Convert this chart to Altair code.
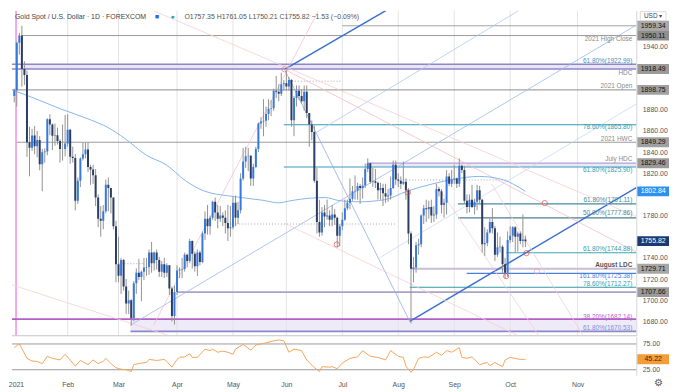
import altair as alt
import pandas as pd

# ---------------- candles: one entry per trading day, Dec 31 2020 .. Oct 11 2021 ----------------
opens = [
    1893.0, 1898.4, 1943.2, 1950.1, 1918.5, 1912.8, 1849.3, 1844.0, 1855.7, 1845.5,
    1851.4, 1828.4, 1839.9, 1840.5, 1871.0, 1866.0, 1855.4, 1856.0, 1850.5, 1843.0,
    1843.0, 1848.0, 1861.0, 1835.5, 1834.5, 1794.0, 1813.0, 1834.0, 1838.0, 1842.5,
    1826.0, 1823.5, 1818.0, 1797.0, 1777.0, 1775.0, 1784.0, 1809.0, 1806.0, 1797.0,
    1770.0, 1734.0, 1723.0, 1738.0, 1713.0, 1697.0, 1700.0, 1683.0, 1716.0, 1726.0,
    1722.0, 1727.0, 1731.0, 1731.5, 1745.0, 1735.0, 1745.0, 1738.0, 1727.0, 1734.0,
    1726.0, 1733.0, 1711.0, 1685.0, 1707.7, 1728.0, 1729.0, 1729.5, 1743.0, 1737.0,
    1756.0, 1744.0, 1732.0, 1745.0, 1736.0, 1763.0, 1777.0, 1770.0, 1778.0, 1793.0,
    1783.0, 1777.0, 1780.0, 1778.0, 1773.0, 1768.0, 1769.0, 1792.0, 1778.0, 1785.0,
    1815.0, 1831.0, 1836.0, 1836.5, 1815.0, 1826.0, 1843.0, 1867.0, 1869.0, 1869.5,
    1876.0, 1881.0, 1881.5, 1898.0, 1897.0, 1895.0, 1904.0, 1905.0, 1902.0, 1908.0,
    1870.0, 1891.0, 1898.0, 1893.0, 1888.0, 1897.0, 1877.0, 1866.0, 1859.0, 1813.0,
    1774.0, 1764.0, 1783.0, 1779.0, 1780.0, 1776.0, 1781.0, 1778.0, 1761.0, 1770.0,
    1776.0, 1787.0, 1792.0, 1796.0, 1803.0, 1803.5, 1808.0, 1806.0, 1808.5, 1824.0,
    1829.5, 1812.0, 1812.5, 1811.0, 1804.0, 1806.0, 1801.0, 1798.0, 1799.0, 1806.0,
    1828.0, 1814.0, 1813.0, 1810.0, 1812.0, 1804.0, 1763.0, 1729.7, 1731.0, 1752.0,
    1753.0, 1780.0, 1787.0, 1786.0, 1788.0, 1780.0, 1781.0, 1805.0, 1803.0, 1790.0,
    1792.0, 1817.0, 1810.0, 1814.0, 1815.0, 1810.0, 1827.0, 1823.0, 1794.0, 1788.0,
    1795.0, 1788.0, 1793.0, 1804.0, 1795.0, 1753.0, 1754.0, 1764.0, 1774.0, 1768.0,
    1743.0, 1750.0, 1750.5, 1734.0, 1726.0, 1757.0, 1761.0, 1769.0, 1760.0, 1763.0,
    1756.0, 1757.35,
]
highs = [
    1900.0, 1944.4, 1952.6, 1959.3, 1925.8, 1917.0, 1864.0, 1862.0, 1864.5, 1860.0,
    1855.0, 1843.0, 1843.5, 1872.0, 1875.8, 1867.0, 1867.0, 1863.0, 1852.0, 1866.0,
    1875.0, 1875.8, 1862.0, 1845.0, 1838.0, 1816.0, 1835.0, 1849.0, 1849.0, 1849.0,
    1828.0, 1828.0, 1824.0, 1800.0, 1789.0, 1790.0, 1814.0, 1816.0, 1806.0, 1797.0,
    1775.0, 1760.0, 1740.0, 1739.0, 1720.0, 1709.0, 1701.0, 1718.0, 1730.0, 1739.0,
    1728.0, 1740.0, 1740.0, 1748.0, 1755.0, 1746.0, 1748.0, 1741.0, 1737.0, 1740.0,
    1735.0, 1733.0, 1713.0, 1714.0, 1733.0, 1731.0, 1740.0, 1745.0, 1744.0, 1758.0,
    1756.5, 1746.0, 1748.0, 1747.0, 1765.0, 1784.0, 1790.0, 1780.0, 1794.0, 1797.0,
    1790.0, 1789.0, 1783.0, 1785.0, 1790.0, 1789.0, 1798.0, 1799.0, 1793.0, 1820.0,
    1844.0, 1845.0, 1844.0, 1837.0, 1829.0, 1845.0, 1868.0, 1873.0, 1890.0, 1883.0,
    1890.0, 1889.0, 1900.0, 1912.0, 1904.0, 1915.0, 1908.0, 1916.6, 1911.0, 1909.0,
    1893.0, 1903.0, 1903.0, 1899.0, 1903.0, 1903.0, 1877.0, 1870.0, 1865.0, 1825.0,
    1795.0, 1788.0, 1790.0, 1795.0, 1785.0, 1790.0, 1786.0, 1779.0, 1772.0, 1783.0,
    1795.0, 1795.0, 1815.0, 1808.0, 1818.0, 1811.0, 1810.0, 1816.0, 1829.0, 1834.0,
    1829.8, 1825.0, 1824.0, 1812.0, 1811.0, 1810.0, 1810.0, 1805.0, 1817.0, 1832.0,
    1832.0, 1820.0, 1817.0, 1831.0, 1815.0, 1806.0, 1765.0, 1741.0, 1755.0, 1758.0,
    1781.0, 1790.0, 1795.0, 1794.0, 1795.0, 1789.0, 1810.0, 1807.0, 1805.0, 1796.0,
    1823.0, 1820.0, 1823.0, 1828.0, 1816.0, 1834.0, 1828.0, 1827.0, 1800.0, 1800.0,
    1809.0, 1796.0, 1809.0, 1808.0, 1796.0, 1769.0, 1767.0, 1777.0, 1787.0, 1770.0,
    1764.0, 1760.0, 1752.0, 1740.0, 1765.0, 1770.0, 1770.0, 1770.0, 1765.0, 1765.0,
    1781.0, 1761.05,
]
lows = [
    1887.0, 1883.0, 1932.0, 1901.8, 1903.4, 1835.5, 1817.1, 1841.0, 1838.0, 1835.0,
    1822.8, 1803.0, 1830.0, 1837.0, 1856.0, 1842.0, 1846.0, 1847.0, 1830.0, 1832.0,
    1836.0, 1845.0, 1829.0, 1830.0, 1785.0, 1791.0, 1807.0, 1832.0, 1834.0, 1821.0,
    1809.0, 1810.0, 1789.0, 1769.0, 1760.0, 1767.0, 1782.0, 1784.0, 1782.0, 1767.0,
    1717.0, 1717.0, 1706.0, 1709.0, 1687.0, 1687.0, 1676.0, 1680.0, 1706.0, 1719.0,
    1699.0, 1719.0, 1723.0, 1724.0, 1726.0, 1728.0, 1729.0, 1722.0, 1722.0, 1721.0,
    1722.0, 1705.0, 1680.0, 1677.0, 1705.0, 1721.0, 1721.0, 1727.0, 1731.0, 1735.0,
    1730.0, 1727.0, 1723.0, 1733.0, 1735.0, 1757.0, 1762.0, 1762.0, 1776.0, 1775.0,
    1768.0, 1774.0, 1770.0, 1763.0, 1756.0, 1760.0, 1767.0, 1770.0, 1772.0, 1782.0,
    1813.0, 1825.0, 1822.0, 1808.0, 1808.0, 1825.0, 1840.0, 1862.0, 1855.0, 1864.0,
    1870.0, 1874.0, 1879.0, 1891.0, 1888.0, 1893.0, 1898.0, 1898.0, 1898.0, 1864.0,
    1855.0, 1883.0, 1889.0, 1886.0, 1879.0, 1872.0, 1845.0, 1851.0, 1811.0, 1763.0,
    1760.0, 1761.0, 1769.0, 1776.0, 1770.0, 1770.0, 1771.0, 1750.0, 1751.0, 1766.0,
    1775.0, 1785.0, 1786.0, 1794.0, 1795.0, 1795.0, 1791.0, 1796.0, 1806.0, 1821.0,
    1810.0, 1807.0, 1806.0, 1795.0, 1795.0, 1789.0, 1792.0, 1793.0, 1795.0, 1805.0,
    1809.0, 1807.0, 1805.0, 1809.0, 1795.0, 1753.0, 1678.0, 1717.0, 1726.0, 1743.0,
    1750.0, 1772.0, 1774.0, 1777.0, 1773.0, 1774.0, 1777.0, 1798.0, 1782.0, 1778.0,
    1781.0, 1808.0, 1807.0, 1810.0, 1806.0, 1807.0, 1820.0, 1791.0, 1782.0, 1783.0,
    1787.0, 1781.0, 1785.0, 1791.0, 1745.0, 1742.0, 1751.0, 1763.0, 1763.0, 1737.0,
    1741.0, 1745.0, 1725.0, 1721.0, 1722.0, 1754.0, 1755.0, 1745.0, 1746.0, 1753.0,
    1750.0, 1750.21,
]
closes = [
    1898.4, 1943.2, 1950.1, 1918.5, 1912.8, 1849.3, 1844.0, 1855.7, 1845.5, 1851.4,
    1828.4, 1839.9, 1840.5, 1871.0, 1866.0, 1855.4, 1856.0, 1850.5, 1843.0, 1843.0,
    1848.0, 1861.0, 1835.5, 1834.5, 1794.0, 1813.0, 1834.0, 1838.0, 1842.5, 1826.0,
    1823.5, 1818.0, 1797.0, 1777.0, 1775.0, 1784.0, 1809.0, 1806.0, 1797.0, 1770.0,
    1734.0, 1723.0, 1738.0, 1713.0, 1697.0, 1700.0, 1683.0, 1716.0, 1726.0, 1722.0,
    1727.0, 1731.0, 1731.5, 1745.0, 1735.0, 1745.0, 1738.0, 1727.0, 1734.0, 1726.0,
    1733.0, 1711.0, 1685.0, 1707.7, 1728.0, 1729.0, 1729.5, 1743.0, 1737.0, 1756.0,
    1744.0, 1732.0, 1745.0, 1736.0, 1763.0, 1777.0, 1770.0, 1778.0, 1793.0, 1783.0,
    1777.0, 1780.0, 1778.0, 1773.0, 1768.0, 1769.0, 1792.0, 1778.0, 1785.0, 1815.0,
    1831.0, 1836.0, 1836.5, 1815.0, 1826.0, 1843.0, 1867.0, 1869.0, 1869.5, 1876.0,
    1881.0, 1881.5, 1898.0, 1897.0, 1895.0, 1904.0, 1905.0, 1902.0, 1908.0, 1870.0,
    1891.0, 1898.0, 1893.0, 1888.0, 1897.0, 1877.0, 1866.0, 1859.0, 1813.0, 1774.0,
    1764.0, 1783.0, 1779.0, 1780.0, 1776.0, 1781.0, 1778.0, 1761.0, 1770.0, 1776.0,
    1787.0, 1792.0, 1796.0, 1803.0, 1803.5, 1808.0, 1806.0, 1808.5, 1824.0, 1829.5,
    1812.0, 1812.5, 1811.0, 1804.0, 1806.0, 1801.0, 1798.0, 1799.0, 1806.0, 1828.0,
    1814.0, 1813.0, 1810.0, 1812.0, 1804.0, 1763.0, 1729.7, 1731.0, 1752.0, 1753.0,
    1780.0, 1787.0, 1786.0, 1788.0, 1780.0, 1781.0, 1805.0, 1803.0, 1790.0, 1792.0,
    1817.0, 1810.0, 1814.0, 1815.0, 1810.0, 1827.0, 1823.0, 1794.0, 1788.0, 1795.0,
    1788.0, 1793.0, 1804.0, 1795.0, 1753.0, 1754.0, 1764.0, 1774.0, 1768.0, 1743.0,
    1750.0, 1750.5, 1734.0, 1726.0, 1757.0, 1761.0, 1769.0, 1760.0, 1763.0, 1756.0,
    1757.4, 1755.82,
]

# month starts (bar position) and labels
month_pos = [0.7, 21, 41, 64, 86, 107, 129, 151, 173, 195, 221.5]
month_lab = ["2021", "Feb", "Mar", "Apr", "May", "Jun", "Jul", "Aug", "Sep", "Oct", "Nov"]
price_ticks = [1680, 1700, 1720, 1740, 1780, 1820, 1840, 1860, 1880, 1940]
rsi_ticks = [25, 75]

# moving average (sampled)
ma_bar = [0, 6.7, 18, 29.4, 37, 43.4, 52, 59.7, 67.3, 74.9, 86.2, 97.6, 104, 107.8, 112.7,
          122.2, 128, 135.5, 145.7, 154.4, 164.6, 173.3, 182.8, 191.2, 196, 201]
ma_val = [1898, 1892, 1881, 1871, 1863, 1853, 1837, 1828, 1813, 1803, 1798, 1794.5, 1792, 1793.6, 1795.5,
          1797, 1794, 1793, 1795, 1803, 1810, 1814.5, 1817, 1814.5, 1810, 1802.84]

# RSI (sampled)
rsi_bar = [0, 2, 3, 5, 7, 9, 11, 13, 15, 18, 20, 22, 24, 26, 29, 31, 33, 35, 36, 38,
           40, 42, 44, 46, 47, 50, 52, 53, 56, 59, 60, 62, 64, 65, 67, 69, 70, 72, 75, 77,
           78, 80, 82, 84, 86, 87, 90, 93, 95, 99, 101, 104, 106, 108, 110, 113, 115, 118, 120, 121,
           124, 125, 127, 129, 132, 135, 137, 140, 143, 146, 148, 151, 153, 154, 156, 157, 159, 161, 163, 166,
           168, 170, 172, 175, 176, 178, 180, 183, 186, 187, 189, 192, 193, 195, 197, 199, 201]
rsi_val = [68, 75, 66, 47, 42, 41, 37, 51, 47, 44, 55, 44, 32, 43, 35, 44, 37, 41, 47, 37,
           29, 26, 25, 21.5, 35, 38, 39, 45, 43, 45, 41, 30, 45, 49, 50, 56, 49, 49, 65, 62,
           65, 59, 61, 59, 55, 65, 74, 63, 73, 77, 80, 83, 81, 59, 65, 62, 44, 29, 21.5, 31,
           30, 31, 27, 38, 47, 50, 62, 51, 49, 44, 62, 51, 49, 32, 20, 26, 47, 50, 49, 59,
           53, 62, 59, 68, 49, 47, 50, 35, 39, 33, 39, 31, 44, 49, 47, 45, 45.22]

# horizontal levels
lvl_price = [1959.34, 1950.11, 1922.99, 1918.49, 1898.75, 1865.80, 1849.29, 1829.46, 1825.90,
             1791.11, 1777.86, 1744.88, 1729.71, 1725.38, 1712.27, 1707.66, 1682.14, 1670.53]
lvl_from = [129, 3, -0.9, -0.9, -0.9, 106, 1, 139, 106, 174.5, 174.5, 193.5, 156, 177.9, 155.5, 64, -0.9, 45.7]
lvl_color = ["#a3a3a3", "#9a9a9a", "#8f86c6", "#8f86c6", "#8c8c8c", "#2e9fb3", "#9a9a9a", "#b0a2d6", "#3a9cc0",
             "#3f8e9c", "#4f7f8c", "#3fa6b5", "#c6bedc", "#4a7fe0", "#2f9aa5", "#aaa3c6", "#b35fc9", "#8a88cc"]
lvl_width = [1, 1, 1.3, 1.3, 1, 1.2, 1, 1.3, 1.2, 1.2, 1.2, 1.2, 2, 1.2, 1.2, 1.8, 1.6, 1.6]

# shaded zones
zone_lo = [1918.49, 1825.90, 1670.53]
zone_hi = [1922.99, 1829.46, 1682.14]
zone_from = [3, 139, 45.7]
zone_color = ["#e9e5f5", "#ece8f6", "#eeeaf7"]

# dotted reference lines
dot_price = [1907, 1813.6, 1734.5, 1772]
dot_from = [108, 153, 41, 85]
dot_to = [129, 194, 51, 150]

# level annotations
note_text = ["2021 High Close", "61.80%(1922.99)", "HDC", "2021 Open", "78.60%(1865.80)", "2021 HWC",
             "July HDC", "61.80%(1825.90)", "61.80%(1791.11)", "50.00%(1777.86)", "61.80%(1744.88)",
             "August LDC", "161.80%(1725.38)", "78.60%(1712.27)", "38.20%(1682.14)", "61.80%(1670.53)"]
note_price = [1946.4, 1926.4, 1914.5, 1902.7, 1863.6, 1852.7, 1833.6, 1822.7, 1794.5, 1782.7, 1748.2,
              1733.6, 1722.7, 1715.5, 1684.5, 1673.6]
note_color = ["#8a8a8a", "#4b8db5", "#8a8a8a", "#8a8a8a", "#2e9fb3", "#8a8a8a", "#8a8a8a", "#2e9fb3",
              "#3f8e9c", "#3f8e9c", "#2e9fb3", "#555555", "#4a7fe0", "#2e9fb3", "#b35fc9", "#7f8fd6"]
note_bold = [False] * 11 + [True] + [False] * 4

# right-axis price tags
tag_price = [1959.34, 1950.11, 1918.49, 1898.75, 1849.29, 1829.46, 1802.84, 1755.82, 1729.71, 1707.66]
tag_bg = ["#a8a8a8", "#8f8f8f", "#9a9a9a", "#a0a0a0", "#a0a0a0", "#9a9a9a", "#2f8ff0", "#1d3a70", "#a6a6a6", "#9a9a9a"]
tag_fg = ["#111111"] * 6 + ["#ffffff", "#ffffff", "#111111", "#111111"]
rsi_tag = [45.22]

# trend / pitchfork lines (bar, price) -> (bar, price)
seg_x1 = [106.3, 155.5, 45.7, 106.3, 118.7, 143.2, 106.3, 54.8, -0.9, 106.3, 165.8, 187.7, 54.8]
seg_y1 = [1918.2, 1680.0, 1676.4, 1918.2, 1858.5, 1739.5, 1918.2, 1973.6, 1714.5, 1772.7, 1810.0, 1810.0, 1676.4]
seg_x2 = [146.1, 244.6, 244.6, 155.5, 198.3, 244.6, 244.6, 244.6, 63.5, 199.9, 206.3, 223.7, 119.6]
seg_y2 = [1973.6, 1806.4, 1960.0, 1680.0, 1973.6, 1885.5, 1745.5, 1779.1, 1664.5, 1664.5, 1666.4, 1666.4, 1973.6]
seg_color = ["#3b6fd4", "#3b6fd4", "#9ab8ec", "#8eacE6", "#b0c8f0", "#c2d4f4",
             "#f3bcc3", "#f6cdd2", "#f6cdd2", "#f6cdd2", "#f6cdd2", "#f6cdd2", "#f3c4ca"]
seg_width = [1.5, 1.4, 0.8, 0.8, 0.8, 0.7, 0.8, 0.8, 0.8, 0.8, 0.8, 0.8, 0.8]

# pivots marked with circles
pin_bar = [106.3, 154.8, 126.8, 208.6, 201.4, 193.4, 205.5]
pin_price = [1918.2, 1801.8, 1752.7, 1791.8, 1744.5, 1722.7, 1727.3]
pin_color = ["#e07a8a", "#e04848", "#e04848", "#e04848", "#e04848", "#e04848", "#eaa0a8"]

# ---------------- layout ----------------
XMIN, XMAX = -0.9, 244.6
YMIN, YMAX = 1666.4, 1973.6
RMIN, RMAX = 14.0, 89.0
W, H1, H2 = 630, 328, 39
FONT = "Liberation Sans"
TAG_H = 5.0 * (YMAX - YMIN) / H1
RTAG_H = 5.0 * (RMAX - RMIN) / H2

xs = alt.Scale(domain=[XMIN, XMAX], nice=False, zero=False)
ys = alt.Scale(domain=[YMIN, YMAX], nice=False, zero=False)
rs = alt.Scale(domain=[RMIN, RMAX], nice=False, zero=False)

y_axis = alt.Axis(orient="right", values=price_ticks, format=".2f", grid=False, ticks=False,
                  domainColor="#d4d4d4", labelColor="#555555", labelFontSize=7, labelFont=FONT,
                  labelPadding=6, title=None, labelOverlap=False)
r_axis = alt.Axis(orient="right", values=rsi_ticks, format=".2f", grid=False, ticks=False,
                  domainColor="#d4d4d4", labelColor="#555555", labelFontSize=7, labelFont=FONT,
                  labelPadding=6, title=None, labelOverlap=False)
lab_expr = " : ".join(f"datum.value == {p} ? '{l}'" for p, l in zip(month_pos, month_lab)) + " : ''"
x_axis = alt.Axis(values=month_pos, labelExpr=lab_expr, grid=False, ticks=False, domain=False,
                  labelColor="#555555", labelFontSize=7, labelFont=FONT, labelPadding=5,
                  title=None, labelOverlap=False, labelFlush=False)


def PX(f):
    return alt.X(f, type="quantitative", scale=xs, axis=None)


def PY(f):
    return alt.Y(f, type="quantitative", scale=ys, axis=y_axis)


def RX(f):
    return alt.X(f, type="quantitative", scale=xs, axis=x_axis)


def RY(f):
    return alt.Y(f, type="quantitative", scale=rs, axis=r_axis)


n = len(closes)
candles = pd.DataFrame({"i": list(range(n)), "o": opens, "h": highs, "l": lows, "c": closes})
candles["col"] = ["#3579e0" if c >= o else "#2c3d63" for o, c in zip(opens, closes)]

levels = pd.DataFrame({"p": lvl_price, "s": lvl_from, "col": lvl_color, "w": lvl_width})
levels["e"] = XMAX
zones = pd.DataFrame({"lo": zone_lo, "hi": zone_hi, "s": zone_from, "col": zone_color})
zones["e"] = XMAX
dots = pd.DataFrame({"p": dot_price, "s": dot_from, "e": dot_to})
notes = pd.DataFrame({"t": note_text, "p": note_price, "col": note_color, "b": note_bold})
notes_n = notes[~notes["b"]].drop(columns="b")
notes_b = notes[notes["b"]].drop(columns="b")
tags = pd.DataFrame({"p": tag_price, "bg": tag_bg, "fg": tag_fg})
tags["t"] = [f"{v:.2f}" for v in tag_price]
tags["top"] = tags["p"] + TAG_H
tags["bot"] = tags["p"] - TAG_H
segs = pd.DataFrame({"x1": seg_x1, "y1": seg_y1, "x2": seg_x2, "y2": seg_y2, "col": seg_color, "w": seg_width})
pins = pd.DataFrame({"i": pin_bar, "p": pin_price, "col": pin_color})
ma = pd.DataFrame({"i": ma_bar, "v": ma_val})
months = pd.DataFrame({"m": month_pos[1:]})
rsi = pd.DataFrame({"i": rsi_bar, "v": rsi_val})
rlev = pd.DataFrame({"v": rsi_ticks})
rtag = pd.DataFrame({"v": rsi_tag})
rtag["t"] = [f"{v:.2f}" for v in rsi_tag]
rtag["top"] = rtag["v"] + RTAG_H
rtag["bot"] = rtag["v"] - RTAG_H
header = pd.DataFrame({
    "t": ["Gold Spot / U.S. Dollar · 1D · FOREXCOM", "■", "●",
          "O1757.35 H1761.05 L1750.21 C1755.82 −1.53 (−0.09%)"],
    "x": [3, 144, 160, 174],
    "col": ["#444444", "#2962ff", "#26a69a", "#555555"],
})

# ---------------- price pane ----------------
zone_l = alt.Chart(zones).mark_rect(clip=True).encode(
    x=PX("s"), x2="e", y=PY("lo"), y2="hi", color=alt.Color("col:N", scale=None))
grid_l = alt.Chart(months).mark_rule(color="#e4e4e4", strokeWidth=1).encode(
    x=PX("m"), y=alt.value(0), y2=alt.value(H1))
pink_l = alt.Chart(pd.DataFrame({"m": [month_pos[0]]})).mark_rule(color="#ef8fe2", strokeWidth=1.5).encode(
    x=PX("m"), y=alt.value(0), y2=alt.value(H1))
sep_l = alt.Chart(pd.DataFrame({"a": [0]})).mark_rule(color="#c4c4c4", strokeWidth=1).encode(
    x=alt.value(0), x2=alt.value(W), y=alt.value(H1))
lvl_l = alt.Chart(levels).mark_rule(clip=True).encode(
    x=PX("s"), x2="e", y=PY("p"), color=alt.Color("col:N", scale=None),
    strokeWidth=alt.StrokeWidth("w:Q", scale=None))
dot_l = alt.Chart(dots).mark_rule(color="#a8a8a8", strokeWidth=1, strokeDash=[1, 2], clip=True).encode(
    x=PX("s"), x2="e", y=PY("p"))
seg_l = alt.Chart(segs).mark_rule(clip=True).encode(
    x=PX("x1"), x2="x2", y=PY("y1"), y2="y2", color=alt.Color("col:N", scale=None),
    strokeWidth=alt.StrokeWidth("w:Q", scale=None))
ma_l = alt.Chart(ma).mark_line(color="#86b6ec", strokeWidth=1, interpolate="monotone", clip=True).encode(
    x=PX("i"), y=PY("v"))
wick_l = alt.Chart(candles).mark_rule(color="#929292", strokeWidth=1, clip=True).encode(
    x=PX("i"), y=PY("l"), y2="h")
body_l = alt.Chart(candles).mark_rule(strokeWidth=2, strokeCap="butt", clip=True).encode(
    x=PX("i"), y=PY("o"), y2="c", color=alt.Color("col:N", scale=None))
pin_l = alt.Chart(pins).mark_point(shape="circle", filled=False, size=28, strokeWidth=1).encode(
    x=PX("i"), y=PY("p"), color=alt.Color("col:N", scale=None))
note_l = alt.Chart(notes_n).mark_text(align="right", baseline="middle", fontSize=6.5, font=FONT).encode(
    x=alt.value(W - 4), y=PY("p"), text="t:N", color=alt.Color("col:N", scale=None))
noteb_l = alt.Chart(notes_b).mark_text(align="right", baseline="middle", fontSize=6.5, font=FONT,
                                       fontWeight="bold").encode(
    x=alt.value(W - 4), y=PY("p"), text="t:N", color=alt.Color("col:N", scale=None))
tagbox_l = alt.Chart(tags).mark_rect().encode(
    x=alt.value(W + 1), x2=alt.value(W + 33), y=PY("top"), y2="bot", color=alt.Color("bg:N", scale=None))
tagtxt_l = alt.Chart(tags).mark_text(align="center", baseline="middle", fontSize=7, font=FONT).encode(
    x=alt.value(W + 17), y=PY("p"), text="t:N", color=alt.Color("fg:N", scale=None))
head_l = alt.Chart(header).mark_text(align="left", baseline="middle", fontSize=7, font=FONT).encode(
    x=alt.X("x:Q", scale=None), y=alt.value(6), text="t:N", color=alt.Color("col:N", scale=None))
usd_box = alt.Chart(pd.DataFrame({"a": [0]})).mark_rect(fill="white", stroke="#cfcfcf", strokeWidth=0.8).encode(
    x=alt.value(W + 4), x2=alt.value(W + 30), y=alt.value(1), y2=alt.value(10))
usd_txt = alt.Chart(pd.DataFrame({"t": ["USD ▾"]})).mark_text(
    align="center", baseline="middle", fontSize=6.5, font=FONT, color="#444444").encode(
    x=alt.value(W + 17), y=alt.value(5.5), text="t:N")

price = alt.layer(
    zone_l, grid_l, pink_l, sep_l, lvl_l, dot_l, seg_l, ma_l, wick_l, body_l, pin_l,
    note_l, noteb_l, tagbox_l, tagtxt_l, head_l, usd_box, usd_txt
).properties(width=W, height=H1)

# ---------------- RSI pane ----------------
rlev_l = alt.Chart(rlev).mark_rule(color="#9a9a9a", strokeWidth=1).encode(
    x=alt.value(0), x2=alt.value(W), y=RY("v"))
rsi_l = alt.Chart(rsi).mark_line(color="#f3a55c", strokeWidth=1, clip=True).encode(
    x=RX("i"), y=RY("v"))
rbox_l = alt.Chart(rtag).mark_rect(color="#f29d38").encode(
    x=alt.value(W + 1), x2=alt.value(W + 33), y=RY("top"), y2="bot")
rtxt_l = alt.Chart(rtag).mark_text(align="center", baseline="middle", fontSize=7, font=FONT,
                                   color="#3a2a10").encode(
    x=alt.value(W + 17), y=RY("v"), text="t:N")
gear_l = alt.Chart(pd.DataFrame({"t": ["⚙"]})).mark_text(
    align="center", baseline="middle", fontSize=10, color="#555555").encode(
    x=alt.value(W + 22), y=alt.value(H2 + 8), text="t:N")

rsi_chart = alt.layer(rlev_l, rsi_l, rbox_l, rtxt_l, gear_l).properties(width=W, height=H2)

chart = alt.vconcat(price, rsi_chart, spacing=0).properties(
    padding={"left": 0, "top": 0, "right": 2, "bottom": 0},
    background="white",
).configure_view(stroke=None)

chart.save("out.html", embed_options={"renderer": "svg", "actions": False})
